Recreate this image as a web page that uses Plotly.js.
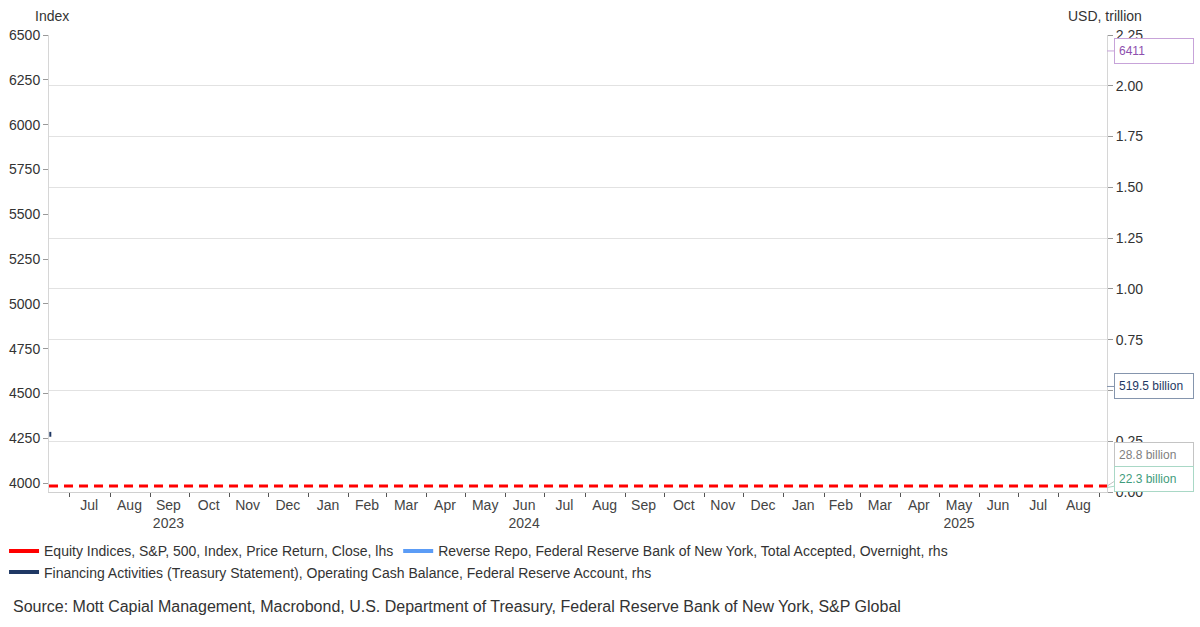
<!DOCTYPE html>
<html>
<head>
<meta charset="utf-8">
<script src="https://cdn.plot.ly/plotly-3.0.1.min.js"></script>
<style>
  html, body { margin: 0; padding: 0; background: #fff; }
  #chart { width: 1200px; height: 627px; }
</style>
</head>
<body>
<div id="chart"></div>
<script>
// S&P 500 (lhs) - only the flat dashed trace is visible in the picture
var spxDates = ['2023-06-15', '2023-09-01', '2023-12-01', '2024-03-01', '2024-06-01',
                '2024-09-01', '2024-12-01', '2025-03-01', '2025-06-01', '2025-09-07'];
var spxValues = [3983, 3983, 3983, 3983, 3983, 3983, 3983, 3983, 3983, 3983];

// Reverse repo (rhs, USD trillion) - last reading only
var rrpDates = ['2025-09-05'];
var rrpValues = [0.0223];

// Treasury operating cash balance (rhs, USD trillion) - tiny stub at the left edge
var tgaDates = ['2023-06-16', '2023-06-16'];
var tgaValues = [0.272, 0.296];

// series names and legend colours
var seriesNames = [
    'Equity Indices, S&P, 500, Index, Price Return, Close, lhs',
    'Reverse Repo, Federal Reserve Bank of New York, Total Accepted, Overnight, rhs',
    'Financing Activities (Treasury Statement), Operating Cash Balance, Federal Reserve Account, rhs'
];
var seriesColors = ['#ff0000', '#5b9cf6', '#1f3864'];
var seriesLegendRow = ['legend', 'legend', 'legend2'];

// last-value callouts
var calloutText = ['6411', '519.5 billion', '28.8 billion', '22.3 billion'];
var calloutValue = [6411, 0.5195, 0.0288, 0.0223];
var calloutAxis = ['y', 'y2', 'y2', 'y2'];
var calloutShift = [0, 0, -31, -8];
var calloutFont = ['#8e4fae', '#1f3864', '#7f7f7f', '#3f9c7c'];
var calloutLine = ['#c7a3d9', '#8595ad', '#c4c4c4', '#a9d8c6'];

// x axis labels, placed mid-month
var monthLabels = ['Jul', 'Aug', 'Sep', 'Oct', 'Nov', 'Dec',
                   'Jan', 'Feb', 'Mar', 'Apr', 'May', 'Jun', 'Jul', 'Aug', 'Sep', 'Oct', 'Nov', 'Dec',
                   'Jan', 'Feb', 'Mar', 'Apr', 'May', 'Jun', 'Jul', 'Aug'];
var monthMids = ['2023-07-16', '2023-08-16', '2023-09-15', '2023-10-16', '2023-11-15', '2023-12-16',
                 '2024-01-16', '2024-02-15', '2024-03-16', '2024-04-15', '2024-05-16', '2024-06-15',
                 '2024-07-16', '2024-08-16', '2024-09-15', '2024-10-16', '2024-11-15', '2024-12-16',
                 '2025-01-16', '2025-02-14', '2025-03-16', '2025-04-15', '2025-05-16', '2025-06-15',
                 '2025-07-16', '2025-08-16'];
var yearAt = { 2: '2023', 11: '2024', 22: '2025' };

var tickText = monthLabels.map(function (m, i) {
    return yearAt[i] ? m + '<br>' + yearAt[i] : m;
});

var font = '"Liberation Sans", Arial, sans-serif';

var data = [
    {
        x: spxDates, y: spxValues, yaxis: 'y', showlegend: false, hoverinfo: 'skip',
        type: 'scatter', mode: 'lines',
        line: { color: seriesColors[0], width: 3, dash: '9px,6px' }
    },
    {
        x: rrpDates, y: rrpValues, yaxis: 'y2', showlegend: false, hoverinfo: 'skip',
        type: 'scatter', mode: 'lines',
        line: { color: seriesColors[1], width: 2 }
    },
    {
        x: tgaDates, y: tgaValues, yaxis: 'y2', showlegend: false, hoverinfo: 'skip',
        type: 'scatter', mode: 'lines',
        line: { color: seriesColors[2], width: 2 }
    }
];

// legend entries drawn as solid thick swatches, as in the original
// (a single point in 'lines' mode draws nothing on the plot)
var legendAnchorX = [spxDates[0], rrpDates[0], tgaDates[0]];
var legendAnchorY = [spxValues[0], rrpValues[0], tgaValues[0]];
var legendAxis = ['y', 'y2', 'y2'];
seriesNames.forEach(function (n, i) {
    data.push({
        x: [legendAnchorX[i]], y: [legendAnchorY[i]], yaxis: legendAxis[i],
        name: n, type: 'scatter', mode: 'lines', hoverinfo: 'skip',
        legend: seriesLegendRow[i],
        line: { color: seriesColors[i], width: 4 }
    });
});

var annotations = calloutText.map(function (t, i) {
    return {
        xref: 'paper', x: 1, yref: calloutAxis[i], y: calloutValue[i],
        text: t, showarrow: true, arrowhead: 0, arrowwidth: 1,
        arrowcolor: calloutLine[i],
        ax: 47, ay: calloutShift[i],
        width: 70, height: 16, align: 'left',
        bgcolor: '#ffffff', bordercolor: calloutLine[i], borderwidth: 1, borderpad: 4,
        font: { family: font, size: 12, color: calloutFont[i] }
    };
});

annotations.push(
    { xref: 'paper', yref: 'paper', x: -0.0151, y: 1.0416, xanchor: 'left', yanchor: 'middle',
      text: 'Index', showarrow: false, font: { family: font, size: 14, color: '#333' } },
    { xref: 'paper', yref: 'paper', x: 1.0345, y: 1.0416, xanchor: 'right', yanchor: 'middle',
      text: 'USD, trillion', showarrow: false, font: { family: font, size: 14, color: '#333' } },
    { xref: 'paper', yref: 'paper', x: -0.0360, y: -0.2495, xanchor: 'left', yanchor: 'middle',
      text: 'Source: Mott Capial Management, Macrobond, U.S. Department of Treasury, Federal Reserve Bank of New York, S&P Global',
      showarrow: false, font: { family: font, size: 16, color: '#333' } }
);

var legendStyle = function (yPos) {
    return {
        orientation: 'h', x: -0.0425, xanchor: 'left',
        y: yPos, yanchor: 'top', bgcolor: 'rgba(0,0,0,0)',
        font: { family: font, size: 14, color: '#333' },
        itemwidth: 30, tracegroupgap: 0, traceorder: 'normal'
    };
};

var layout = {
    width: 1200, height: 627,
    margin: { l: 49, r: 93, t: 35, b: 135, autoexpand: false },
    paper_bgcolor: '#ffffff', plot_bgcolor: '#ffffff',
    font: { family: font, size: 14, color: '#333' },
    showlegend: true,
    legend: legendStyle(-0.095),
    legend2: legendStyle(-0.141),
    xaxis: {
        type: 'date', range: ['2023-06-15', '2025-09-07'],
        tickmode: 'array', tickvals: monthMids, ticktext: tickText,
        ticks: '', showgrid: false, zeroline: false,
        showline: true, linecolor: '#d0d0d0', linewidth: 1,
        tickfont: { family: font, size: 14, color: '#444' },
        minor: { tickmode: 'linear', tick0: '2023-07-01', dtick: 'M1', ticks: 'outside',
                 ticklen: 4, tickcolor: '#555', showgrid: false }
    },
    yaxis: {
        range: [3950, 6500], tickmode: 'linear', tick0: 4000, dtick: 250,
        showgrid: false, zeroline: false,
        showline: true, linecolor: '#d6d6d6', linewidth: 1,
        ticks: 'outside', ticklen: 5, tickcolor: '#999',
        tickfont: { family: font, size: 14, color: '#333' }
    },
    yaxis2: {
        overlaying: 'y', side: 'right',
        range: [0, 2.25], tickmode: 'linear', tick0: 0, dtick: 0.25, tickformat: '.2f',
        showgrid: true, gridcolor: '#e2e2e2', gridwidth: 1, zeroline: false,
        showline: true, linecolor: '#d6d6d6', linewidth: 1,
        ticks: 'outside', ticklen: 5, tickcolor: '#999',
        tickfont: { family: font, size: 14, color: '#333' }
    },
    annotations: annotations
};

Plotly.newPlot('chart', data, layout, { displayModeBar: false, staticPlot: true });
</script>
</body>
</html>
